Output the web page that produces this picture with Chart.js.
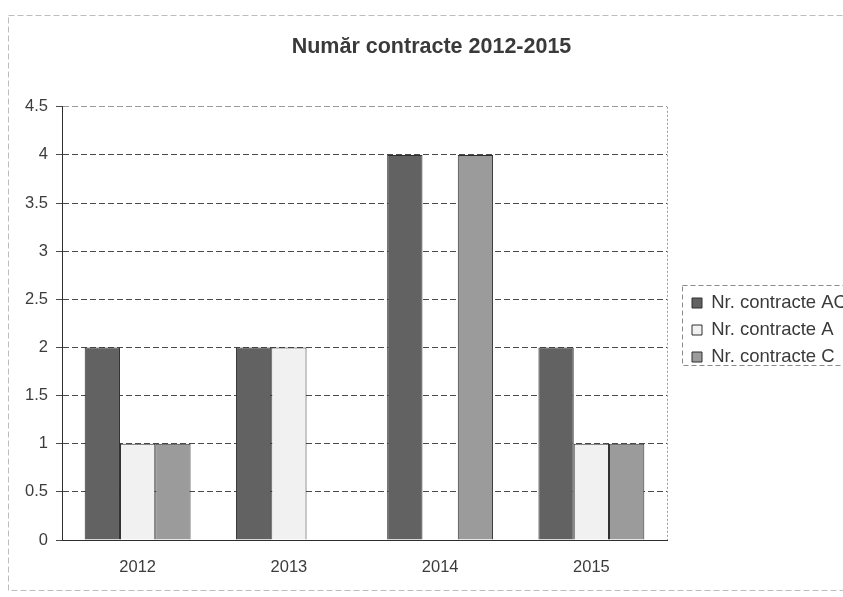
<!DOCTYPE html>
<html>
<head>
<meta charset="utf-8">
<script src="https://cdn.jsdelivr.net/npm/chart.js@4/dist/chart.umd.min.js"></script>
<style>
  html, body { margin: 0; padding: 0; background: #fff; }
  #wrap { width: 843px; height: 597px; }
</style>
</head>
<body>
<div id="wrap"><canvas id="contracteChart" width="843" height="597"></canvas></div>
<script>
// data
const years = ['2012', '2013', '2014', '2015'];
const nrAC = [2, 2, 4, 2];
const nrA = [1, 2, 0, 1];
const nrC = [1, 0, 4, 1];

Chart.defaults.font.family = '"Liberation Sans", Arial, sans-serif';
Chart.defaults.color = '#3c3c3c';

// frame of the page, plot edge and legend box
const framePlugin = {
    id: 'frame',
    afterLayout(chart) {
        const lg = chart.legend;
        lg.left = 683.5;
        lg.top = 60;
        lg.bottom = 600;
        chart.titleBlock.left += 20;
    },
    beforeDraw(chart) {
        const ctx = chart.ctx;
        ctx.save();
        ctx.strokeStyle = '#bdbdbd';
        ctx.lineWidth = 1;
        ctx.setLineDash([6, 3]);
        ctx.strokeRect(8.5, 15.5, 860, 575);
        ctx.restore();
    },
    afterDraw(chart) {
        const ctx = chart.ctx;
        const a = chart.chartArea;
        ctx.save();
        ctx.lineWidth = 1;
        ctx.setLineDash([2, 2]);
        ctx.strokeStyle = '#9a9a9a';
        ctx.beginPath();
        ctx.moveTo(Math.round(a.right) + 0.5, a.top);
        ctx.lineTo(Math.round(a.right) + 0.5, a.bottom);
        ctx.stroke();
        ctx.setLineDash([5, 3]);
        ctx.strokeStyle = '#8a8a8a';
        ctx.strokeRect(682.5, 285.5, 175, 80);
        ctx.restore();
    }
};

const ctx = document.getElementById('contracteChart').getContext('2d');
new Chart(ctx, {
    type: 'bar',
    data: {
        labels: years,
        datasets: [{
            label: 'Nr. contracte AC',
            data: nrAC,
            backgroundColor: '#626262',
            borderColor: '#2e2e2e',
            borderWidth: 1
        },
        {
            label: 'Nr. contracte A',
            data: nrA,
            backgroundColor: '#f1f1f1',
            borderColor: '#2e2e2e',
            borderWidth: 1
        },
        {
            label: 'Nr. contracte C',
            data: nrC,
            backgroundColor: '#9b9b9b',
            borderColor: '#2e2e2e',
            borderWidth: 1
        }]
    },
    options: {
        responsive: false,
        animation: false,
        layout: { padding: 0 },
        datasets: {
            bar: {
                categoryPercentage: 0.7,
                barPercentage: 1.0
            }
        },
        scales: {
            x: {
                grid: { display: false },
                border: { display: true, color: '#2e2e2e', width: 1 },
                ticks: { padding: 10, font: { size: 16.5 } },
                afterFit(scale) { scale.height = 57; }
            },
            y: {
                min: 0,
                max: 4.5,
                ticks: {
                    stepSize: 0.5,
                    padding: 8,
                    font: { size: 16.5 },
                    callback: (v) => String(v)
                },
                grid: {
                    color: (c) => c.index === 9 ? '#9a9a9a' : '#4a4a4a',
                    tickLength: 6,
                    tickColor: '#4a4a4a'
                },
                border: { display: true, color: '#2e2e2e', width: 1, dash: [6, 3] },
                afterFit(scale) { scale.width = 62; }
            }
        },
        plugins: {
            title: {
                display: true,
                text: 'Număr contracte 2012-2015',
                font: { size: 21.5, weight: 'bold' },
                color: '#3a3a3a',
                padding: { top: 34, bottom: 47 }
            },
            legend: {
                position: 'right',
                labels: {
                    boxWidth: 10,
                    boxHeight: 10,
                    padding: 8.5,
                    font: { size: 18.5 },
                    color: '#3a3a3a'
                }
            },
            tooltip: { enabled: false }
        }
    },
    plugins: [framePlugin, {
        id: 'legendWidth',
        beforeInit(chart) {
            const fit = chart.legend.fit;
            chart.legend.fit = function () {
                fit.call(this);
                this.width = 176;
            };
        }
    }]
});
</script>
</body>
</html>
